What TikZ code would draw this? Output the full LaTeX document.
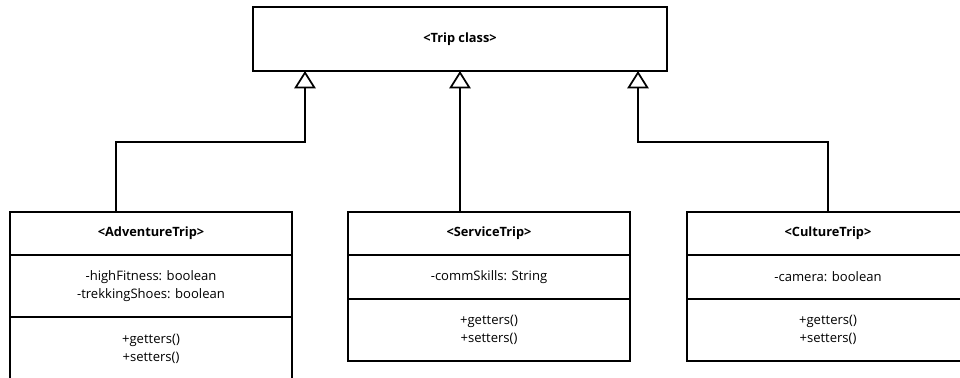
\documentclass[tikz,border=0pt]{standalone}
\usepackage{fontspec}
\setmainfont{Open Sans}
\usetikzlibrary{arrows.meta}

\begin{document}
\begin{tikzpicture}[x=0.75pt,y=-0.75pt,
    cell/.style={draw, line width=1.3pt, minimum width=211.5pt, inner sep=0pt, outer sep=0pt,
      align=center, font=\fontsize{9.8}{13.5}\selectfont},
    title/.style={cell, font=\fontsize{9.6}{13.5}\selectfont\bfseries, minimum height=32.25pt},
    isa/.style={line width=1.3pt, -{Triangle[open, width=16pt, length=13pt]}}]
      \useasboundingbox (0,0) rectangle (960,378);

      \node[title, minimum width=310.5pt, minimum height=48pt] (trip) at (460,39) {<Trip class>};

      \node[title] (advhead) at (151,233.5) {<AdventureTrip>};
      \node[cell, minimum height=46.5pt] (advattr) at (151,286) {-highFitness: boolean\\-trekkingShoes: boolean};
      \node[cell, minimum height=48pt] (advmeth) at (151,349) {+getters()\\+setters()};

      \node[title] (srvhead) at (489,233.5) {<ServiceTrip>};
      \node[cell, minimum height=33pt] (srvattr) at (489,277) {-commSkills: String};
      \node[cell, minimum height=46.5pt] (srvmeth) at (489,330) {+getters()\\+setters()};

      \node[title] (culhead) at (828,233.5) {<CultureTrip>};
      \node[cell, minimum height=33pt] (culattr) at (828,277) {-camera: boolean};
      \node[cell, minimum height=46.5pt] (culmeth) at (828,330) {+getters()\\+setters()};

      \coordinate (stemA) at (116,142);
      \coordinate (bendA) at (305,142);
      \coordinate (bendC) at (638,142);

      \draw[isa] (advhead.north -| stemA) -- (stemA) -- (bendA) -- (trip.south -| bendA);
      \draw[isa] (srvhead.north -| trip.south) -- (trip.south);
      \draw[isa] (culhead.north) |- (bendC) -- (trip.south -| bendC);
    \end{tikzpicture}
\end{document}
